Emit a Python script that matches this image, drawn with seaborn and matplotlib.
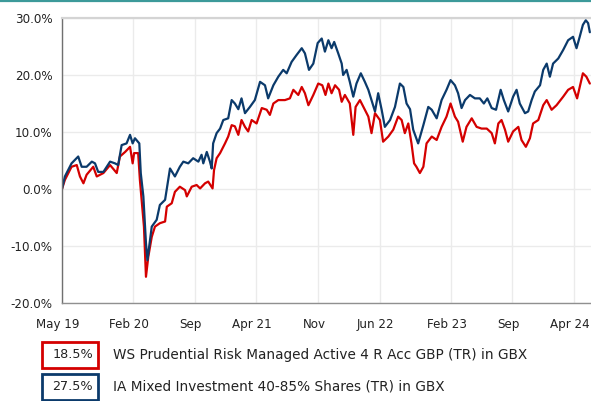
import matplotlib
matplotlib.use("Agg")
import matplotlib.pyplot as plt
import matplotlib.ticker as mticker
import matplotlib.transforms as mtransforms
from matplotlib.patches import Rectangle
import pandas as pd
import seaborn as sns

# ---------------- data ----------------
start_date = "2019-05-31"

# IA Mixed Investment 40-85% Shares (TR) in GBX : days since start, cumulative %
ia_days = [0, 10, 33, 56, 68, 85, 103, 114, 125, 143, 166, 183, 194, 206, 223, 235, 244, 252,
           267, 272, 281, 290, 295, 310, 327, 338, 356, 367, 373, 390, 407, 419, 436, 453, 471,
           482, 488, 500, 511, 517, 522, 534, 546, 557, 574, 586, 597, 609, 620, 632, 649, 666,
           684, 701, 712, 730, 747, 764, 776, 793, 810, 828, 839, 853, 868, 883, 897, 908, 920,
           931, 940, 954, 966, 971, 983, 994, 1006, 1017, 1032, 1046, 1058, 1069, 1081, 1092,
           1104, 1115, 1133, 1150, 1167, 1179, 1190, 1202, 1213, 1230, 1248, 1265, 1277, 1294,
           1311, 1328, 1342, 1357, 1368, 1380, 1392, 1409, 1426, 1443, 1457, 1469, 1484, 1499,
           1515, 1526, 1541, 1558, 1570, 1581, 1599, 1610, 1622, 1633, 1651, 1662, 1674, 1685,
           1696, 1714, 1731, 1748, 1765, 1777, 1788, 1799, 1809, 1817, 1823]
ia_vals = [0.0, 2.2, 4.5, 5.7, 3.9, 3.9, 4.8, 4.5, 3.0, 3.0, 4.8, 4.5, 4.2, 7.7, 8.0, 9.5, 8.0, 8.9,
           8.0, 2.8, -1.3, -9.5, -12.5, -6.6, -5.4, -2.8, -1.9, 1.6, 3.6, 2.2, 3.9, 4.8, 4.5, 5.4,
           4.8, 6.0, 4.5, 6.5, 4.8, 3.6, 8.0, 9.8, 10.6, 12.1, 12.4, 15.6, 15.0, 14.0, 15.9, 13.3,
           14.4, 15.6, 18.8, 18.2, 15.9, 18.2, 19.7, 20.9, 20.3, 22.3, 23.5, 24.7, 23.8, 20.9,
           22.0, 25.6, 26.4, 24.1, 26.1, 24.7, 25.8, 23.8, 22.0, 20.0, 20.9, 18.8, 16.2, 18.5,
           20.3, 18.8, 17.4, 15.6, 13.6, 16.8, 13.9, 10.9, 12.1, 14.4, 18.5, 17.9, 15.0, 14.0,
           10.4, 8.0, 11.2, 14.4, 13.9, 12.4, 15.6, 17.4, 19.1, 18.2, 16.8, 14.2, 15.6, 16.5,
           15.9, 15.9, 15.0, 15.9, 14.2, 13.9, 17.4, 15.6, 13.6, 16.2, 17.4, 15.0, 13.3, 13.6,
           15.6, 17.1, 18.2, 20.9, 22.0, 19.7, 22.0, 22.9, 24.4, 26.1, 26.7, 24.7, 26.7, 28.8,
           29.6, 29.1, 27.5]

# WS Prudential Risk Managed Active 4 R Acc GBP (TR) in GBX
ws_days = [0, 10, 33, 51, 62, 74, 85, 108, 120, 143, 166, 189, 200, 218, 235, 244, 249, 263,
           269, 275, 283, 290, 298, 310, 321, 338, 356, 362, 379, 390, 407, 425, 431, 448, 465,
           477, 494, 505, 520, 525, 534, 546, 563, 574, 586, 597, 609, 620, 632, 643, 655, 672,
           690, 707, 718, 730, 747, 770, 787, 799, 816, 828, 839, 851, 868, 885, 899, 910, 920,
           931, 943, 957, 966, 977, 994, 1006, 1014, 1029, 1046, 1058, 1069, 1081, 1098, 1109,
           1127, 1144, 1161, 1173, 1184, 1196, 1207, 1216, 1224, 1236, 1248, 1259, 1277, 1294,
           1311, 1328, 1342, 1357, 1368, 1384, 1397, 1415, 1432, 1449, 1467, 1484, 1495, 1507,
           1518, 1530, 1541, 1558, 1576, 1587, 1602, 1616, 1627, 1645, 1662, 1674, 1691, 1708,
           1731, 1748, 1765, 1779, 1788, 1799, 1811, 1823]
ws_vals = [0.0, 1.6, 3.9, 4.2, 2.2, 1.0, 2.5, 3.9, 2.2, 2.8, 4.2, 2.8, 5.7, 6.5, 7.4, 4.5, 6.3, 6.3,
           1.6, -1.9, -6.6, -15.4, -11.9, -8.4, -6.6, -6.0, -5.7, -3.1, -2.5, -0.5, 0.4, -0.2,
           -1.3, 0.4, 0.7, 0.1, 1.0, 1.3, 0.1, 3.3, 5.4, 6.3, 8.0, 9.2, 11.2, 11.0, 9.5, 12.1,
           10.9, 10.1, 12.1, 11.5, 14.2, 13.9, 13.0, 15.0, 15.6, 15.6, 15.9, 17.4, 16.5, 17.9,
           16.8, 14.7, 16.5, 18.5, 18.2, 16.5, 18.5, 16.8, 18.2, 17.4, 15.3, 16.5, 15.0, 9.5,
           14.4, 15.6, 13.9, 12.7, 9.8, 13.3, 12.1, 8.3, 9.2, 10.4, 12.7, 12.1, 9.8, 11.5, 8.0,
           4.5, 3.9, 2.8, 3.9, 8.0, 9.2, 8.6, 10.9, 12.7, 15.0, 12.7, 11.8, 8.3, 10.9, 12.4,
           10.9, 10.6, 10.6, 9.8, 8.0, 11.5, 12.1, 10.4, 8.3, 10.1, 10.9, 8.6, 7.4, 8.9, 11.5,
           12.1, 14.7, 15.6, 13.9, 14.7, 16.2, 17.4, 17.9, 15.9, 17.9, 20.3, 19.7, 18.5]

series_names = ["WS Prudential Risk Managed Active 4 R Acc GBP (TR) in GBX",
                "IA Mixed Investment 40-85% Shares (TR) in GBX"]
series_totals = ["18.5%", "27.5%"]
series_colors = ["#d40000", "#0b3a6b"]

tick_dates = ["2019-05-31", "2020-02-01", "2020-09-01", "2021-04-01", "2021-11-01",
              "2022-06-01", "2023-02-01", "2023-09-01", "2024-04-01"]
tick_labels = ["May 19", "Feb 20", "Sep", "Apr 21", "Nov", "Jun 22", "Feb 23", "Sep", "Apr 24"]
y_ticks = [-20, -10, 0, 10, 20, 30]

# ---------------- build frames ----------------
t0 = pd.Timestamp(start_date)
ws_df = pd.DataFrame({"date": t0 + pd.to_timedelta(ws_days, unit="D"), "value": ws_vals})
ia_df = pd.DataFrame({"date": t0 + pd.to_timedelta(ia_days, unit="D"), "value": ia_vals})

sns.set_theme(style="white")
plt.rcParams["font.family"] = ["DejaVu Sans"]
FS = 8.6
LFS = 9.8

W, H = 591, 401
fig = plt.figure(figsize=(W / 100, H / 100), dpi=100)
ax = fig.add_axes([62 / W, (H - 303) / H, 529 / W, 285 / H])

sns.lineplot(data=ws_df, x="date", y="value", ax=ax, color=series_colors[0], linewidth=1.6)
sns.lineplot(data=ia_df, x="date", y="value", ax=ax, color=series_colors[1], linewidth=1.6)

ax.set_xlim(t0, t0 + pd.Timedelta(days=1827))
ax.set_ylim(-20, 30)
ax.set_xlabel("")
ax.set_ylabel("")

ax.set_yticks(y_ticks)
ax.yaxis.set_major_formatter(mticker.FuncFormatter(lambda v, p: f"{v:.1f}%"))
ax.set_xticks(pd.to_datetime(tick_dates))
ax.set_xticklabels(tick_labels)

ax.grid(True, color="#ebebeb", linewidth=1.0)
ax.set_axisbelow(True)
ax.tick_params(axis="both", which="major", labelsize=FS, colors="#222222",
               length=4, width=0.8, direction="out")
ax.tick_params(axis="x", pad=6.5, color="#888888")
ax.tick_params(axis="y", pad=3, color="#666666")

# labels sit a few pixels left of their ticks, as in the reference
shift = mtransforms.ScaledTranslation(-4 / 100, 0, fig.dpi_scale_trans)
for lbl in ax.get_xticklabels():
    lbl.set_transform(lbl.get_transform() + shift)

for side, sp in ax.spines.items():
    sp.set_visible(True)
ax.spines["right"].set_visible(False)
ax.spines["left"].set_color("#707070")
ax.spines["left"].set_linewidth(1.0)
ax.spines["bottom"].set_color("#909090")
ax.spines["bottom"].set_linewidth(1.0)
ax.spines["top"].set_color("#d4d4d4")
ax.spines["top"].set_linewidth(1.6)

# teal rule at the very top of the figure
fig.add_artist(plt.Line2D([0, 1], [1 - 1 / H, 1 - 1 / H], transform=fig.transFigure,
                          color="#3c9a9a", linewidth=1.6))

# legend boxes
box_tops = [342, 374]
for top, total, name, col in zip(box_tops, series_totals, series_names, series_colors):
    rect = Rectangle((42 / W, (H - top - 26) / H), 56 / W, 26 / H, transform=fig.transFigure,
                     fill=False, edgecolor=col, linewidth=2.0)
    fig.add_artist(rect)
    fig.text(93 / W, (H - top - 13) / H, total, ha="right", va="center", fontsize=9.2,
             color="#222222")
    fig.text(113 / W, (H - top - 13) / H, name, ha="left", va="center", fontsize=LFS,
             color="#222222")

fig.savefig("out.png", dpi=100)
